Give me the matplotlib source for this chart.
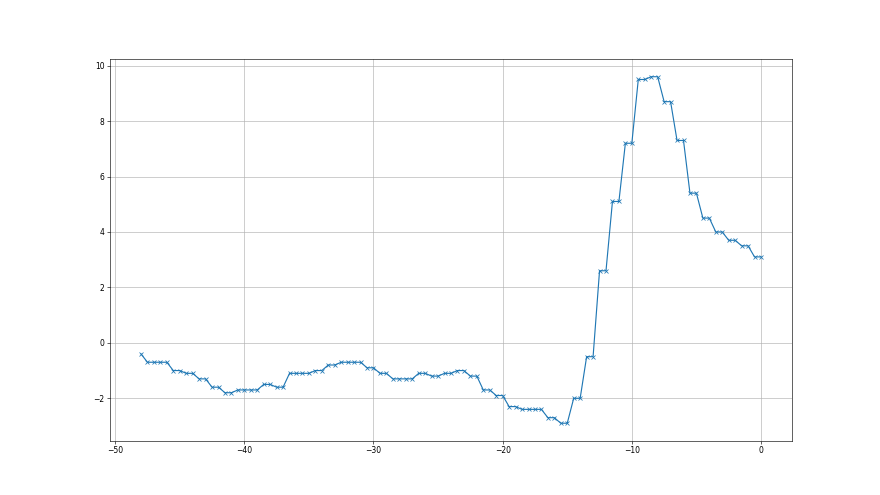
import matplotlib
matplotlib.use("Agg")
import matplotlib.pyplot as plt
import numpy as np

# x positions: -48 .. 0 in half steps
x = np.arange(-48, 0.5, 0.5)

y = [-0.4,
     -0.7, -0.7, -0.7, -0.7,
     -1.0, -1.0,
     -1.1, -1.1,
     -1.3, -1.3,
     -1.6, -1.6,
     -1.8, -1.8,
     -1.7, -1.7, -1.7, -1.7,
     -1.5, -1.5,
     -1.6, -1.6,
     -1.1, -1.1, -1.1, -1.1,
     -1.0, -1.0,
     -0.8, -0.8,
     -0.7, -0.7, -0.7, -0.7,
     -0.9, -0.9,
     -1.1, -1.1,
     -1.3, -1.3, -1.3, -1.3,
     -1.1, -1.1,
     -1.2, -1.2,
     -1.1, -1.1,
     -1.0, -1.0,
     -1.2, -1.2,
     -1.7, -1.7,
     -1.9, -1.9,
     -2.3, -2.3,
     -2.4, -2.4, -2.4, -2.4,
     -2.7, -2.7,
     -2.9, -2.9,
     -2.0, -2.0,
     -0.5, -0.5,
     2.6, 2.6,
     5.1, 5.1,
     7.2, 7.2,
     9.5, 9.5,
     9.6, 9.6,
     8.7, 8.7,
     7.3, 7.3,
     5.4, 5.4,
     4.5, 4.5,
     4.0, 4.0,
     3.7, 3.7,
     3.5, 3.5,
     3.1, 3.1]

fig = plt.figure(figsize=(16, 9), dpi=55)
plt.plot(x, y, marker='x')
plt.grid()
plt.savefig("out.png", dpi=55, facecolor='white')
